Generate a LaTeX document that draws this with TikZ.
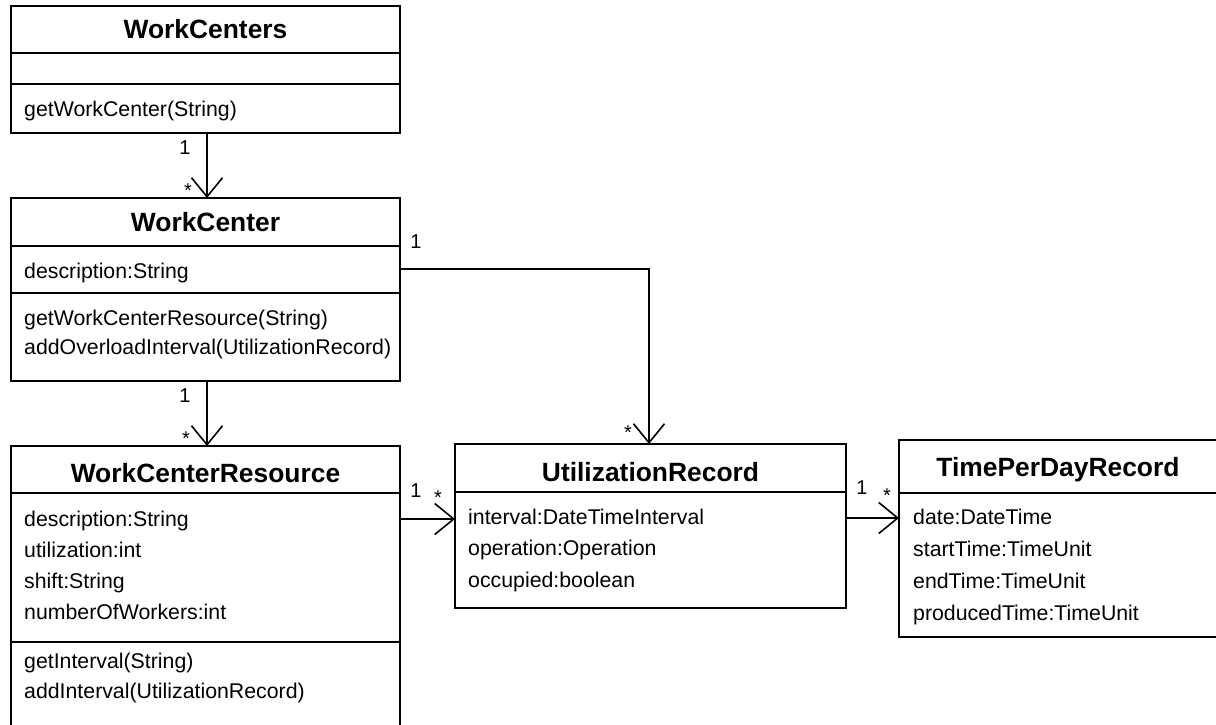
\documentclass[tikz,border=0pt]{standalone}
\usepackage{fontspec}
\setmainfont{Liberation Sans}
\usetikzlibrary{arrows.meta}
\begin{document}
\begin{tikzpicture}[x=1pt,y=-1pt,
  box/.style={draw, line width=1.6pt, inner sep=0pt, outer sep=0pt, anchor=north west},
  title/.style={font=\fontsize{26.4}{30}\selectfont\bfseries, inner sep=0pt, anchor=base},
  member/.style={font=\fontsize{21.3}{25}\selectfont, inner sep=0pt, anchor=base west},
  mult/.style={font=\fontsize{20}{23}\selectfont, inner sep=0pt, anchor=base},
  sepline/.style={line width=1.6pt},
  assoc/.style={line width=1.6pt, -{Straight Barb[length=19pt,width=31pt]}}
]
\useasboundingbox (0,0) rectangle (1216,724);

% WorkCenters
\node[box, minimum width=389pt, minimum height=127pt] (wcs) at (11,6) {};
\draw[sepline] (wcs.west |- 0,53) -- (wcs.east |- 0,53);
\draw[sepline] (wcs.west |- 0,84) -- (wcs.east |- 0,84);
\node[title] (wcsT) at (205.5,38.5) {WorkCenters};
\node[member] (wcsM1) at (24,116) {getWorkCenter(String)};

% WorkCenter
\node[box, minimum width=389pt, minimum height=183pt] (wc) at (11,198) {};
\draw[sepline] (wc.west |- 0,246) -- (wc.east |- 0,246);
\draw[sepline] (wc.west |- 0,293) -- (wc.east |- 0,293);
\node[title] (wcT) at (205.5,231) {WorkCenter};
\node[member] (wcA1) at (24,278) {description:String};
\node[member] (wcM1) at (24,325) {getWorkCenterResource(String)};
\node[member] (wcM2) at (24,354) {addOverloadInterval(UtilizationRecord)};

% WorkCenterResource
\node[box, minimum width=389pt, minimum height=300pt] (wcr) at (11,446) {};
\draw[sepline] (wcr.west |- 0,493) -- (wcr.east |- 0,493);
\draw[sepline] (wcr.west |- 0,642) -- (wcr.east |- 0,642);
\node[title] (wcrT) at (205.5,482) {WorkCenterResource};
\node[member] (wcrA1) at (24,526.5) {description:String};
\node[member] (wcrA2) at (24,557.5) {utilization:int};
\node[member] (wcrA3) at (24,588.5) {shift:String};
\node[member] (wcrA4) at (24,619.5) {numberOfWorkers:int};
\node[member] (wcrM1) at (24,668) {getInterval(String)};
\node[member] (wcrM2) at (24,698) {addInterval(UtilizationRecord)};

% UtilizationRecord
\node[box, minimum width=391pt, minimum height=164pt] (ur) at (455,444) {};
\draw[sepline] (ur.west |- 0,492) -- (ur.east |- 0,492);
\node[title] (urT) at (650.5,481) {UtilizationRecord};
\node[member] (urA1) at (468,524.5) {interval:DateTimeInterval};
\node[member] (urA2) at (468,555.5) {operation:Operation};
\node[member] (urA3) at (468,587.5) {occupied:boolean};

% TimePerDayRecord
\node[box, minimum width=320pt, minimum height=197pt] (tp) at (899,440) {};
\draw[sepline] (tp.west |- 0,493) -- (1230,493);
\node[title] (tpT) at (1058,476) {TimePerDayRecord};
\node[member] (tpA1) at (913,524.5) {date:DateTime};
\node[member] (tpA2) at (913,556.5) {startTime:TimeUnit};
\node[member] (tpA3) at (913,588.5) {endTime:TimeUnit};
\node[member] (tpA4) at (913,620.5) {producedTime:TimeUnit};

% connectors
\draw[assoc] ([xshift=1.5pt]wcs.south) -- ([xshift=1.5pt]wc.north);
\draw[assoc] ([xshift=1.5pt]wc.south) -- ([xshift=1.5pt]wcr.north);
\draw[assoc] (wc.east |- 0,269) -| ([xshift=-1.5pt]ur.north);
\draw[assoc] (wcr.east |- 0,519) -- (ur.west |- 0,519);
\draw[assoc] (ur.east |- 0,518) -- (tp.west |- 0,518);

% multiplicities
\node[mult] (m1a) at (185,154) {1};
\node[mult] (m1b) at (188,197) {*};
\node[mult] (m2a) at (185,402) {1};
\node[mult] (m2b) at (186,445) {*};
\node[mult] (m3a) at (416,248) {1};
\node[mult] (m3b) at (628,439) {*};
\node[mult] (m4a) at (416,497) {1};
\node[mult] (m4b) at (438,504) {*};
\node[mult] (m5a) at (862,494) {1};
\node[mult] (m5b) at (887,502) {*};
\end{tikzpicture}
\end{document}
